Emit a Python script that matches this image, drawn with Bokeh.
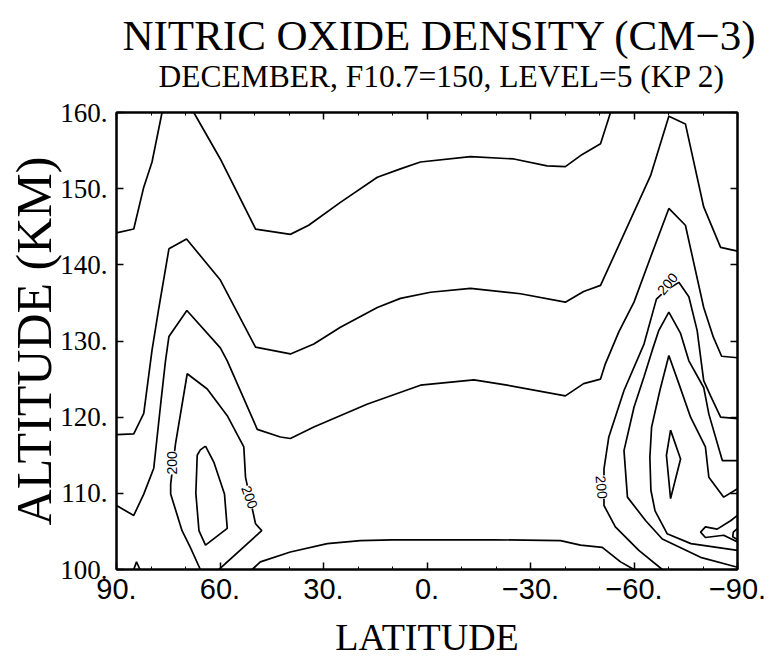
from bokeh.plotting import figure
from bokeh.models import Range1d, FixedTicker, LinearAxis, Label, Title, CustomLabelingPolicy
from bokeh.embed import file_html
from bokeh.resources import INLINE

# ---------------- axis ticks ----------------
lat_major = [90, 60, 30, 0, -30, -60, -90]
lat_minor = [80, 70, 50, 40, 20, 10, -10, -20, -40, -50, -70, -80]
lat_tick_labels = ["90.", "60.", "30.", "0.", "\u221230.", "\u221260.", "\u221290."]
alt_major = [100, 110, 120, 130, 140, 150, 160]
alt_tick_labels = ["100.", "110.", "120.", "130.", "140.", "150.", "160."]

# ---------------- contour lines (latitude, altitude km) ----------------
c1a_lat = [90, 85.0, 82.1, 79.7, 76.8]
c1a_alt = [144.2, 144.7, 150.2, 153.5, 160.0]

c1b_lat = [67.6, 59.9, 49.7, 39.6, 34.3, 25.1, 14.4, 7.7, 1.9, -12.6, -25.2, -34.8, -40.1, -45.0, -50.3, -53.2]
c1b_alt = [160.0, 153.9, 144.7, 144.0, 145.2, 148.2, 151.5, 152.6, 153.5, 154.2, 153.9, 153.0, 152.9, 154.5, 155.9, 160.0]

c2_lat = [90, 85.0, 82.1, 79.7, 77.7, 74.8, 69.7, 59.9, 49.7, 39.6, 32.8, 25.1, 14.4, 7.7, -1.0, -12.6, -27.1,
          -40.1, -45.4, -50.3, -64.8, -70.1, -74.9, -80.2, -85.1, -90]
c2_alt = [117.7, 117.8, 120.5, 128.8, 134.4, 142.1, 143.4, 138.0, 129.2, 128.3, 129.6, 131.8, 134.4, 135.6, 136.4,
          136.9, 136.2, 135.1, 136.5, 137.3, 151.7, 159.5, 158.5, 147.6, 142.3, 141.8]

c3_lat = [90, 85.0, 82.1, 79.2, 77.2, 75.8, 74.8, 69.6, 59.9, 57.9, 49.2, 42.5, 39.6, 32.8, 17.4, 1.9, -13.6,
          -23.2, -40.1, -45.4, -50.3, -51.7, -55.6, -60.0, -64.8, -70.1, -74.9, -80.2, -83.0, -85.4, -90]
c3_alt = [108.4, 107.1, 109.9, 113.3, 121.7, 127.4, 130.6, 134.0, 129.1, 127.4, 118.4, 117.4, 117.2, 118.7, 121.7,
          124.2, 124.9, 124.2, 122.8, 124.4, 125.0, 127.0, 131.2, 135.1, 141.0, 147.4, 145.2, 134.4, 130.5, 128.0, 127.8]

c0_lat = [50.7, 48.3, 39.6, 28.9, 19.3, 10.0, 0.0, -19.3, -38.7, -44.5, -50.8, -56.1, -60.0]
c0_alt = [100.0, 101.0, 102.3, 103.4, 103.8, 103.9, 103.9, 103.9, 103.8, 103.2, 102.9, 101.0, 100.0]

c200w_lat = [65.7, 68.6, 71.0, 74.3, 74.3, 72.9, 69.5, 63.7, 57.9, 53.1, 52.6, 49.7, 47.9, 60.3]
c200w_alt = [100.0, 102.9, 105.1, 109.9, 111.2, 116.5, 125.7, 123.7, 120.2, 116.1, 112.1, 106.0, 105.1, 100.0]

d1_lat = [64.2, 61.8, 58.7, 57.9, 64.2, 66.1, 67.0, 66.6, 65.7, 64.2]
d1_alt = [116.2, 114.1, 109.9, 105.4, 103.2, 105.1, 110.0, 115.0, 115.7, 116.2]

t1_lat = [85.0, 84.2, 83.2]
t1_alt = [100.0, 101.0, 100.0]

c200e_lat = [-68.2, -61.4, -54.6, -51.3, -51.3, -52.7, -57.1, -62.9, -66.5, -69.1, -73.0, -75.9, -78.3, -80.2,
             -82.2, -85.1, -90]
c200e_alt = [100.0, 102.5, 105.6, 108.4, 113.2, 117.4, 123.5, 129.6, 135.5, 136.6, 137.7, 135.8, 131.4, 124.8,
             122.8, 120.0, 119.8]

c5_lat = [-90, -79.3, -68.2, -63.4, -58.1, -57.1, -60.0, -62.9, -65.3, -67.2, -70.1, -73.5, -75.9, -80.2, -81.7,
          -85.6, -90]
c5_alt = [100.3, 101.6, 104.0, 106.4, 109.5, 115.6, 121.3, 125.3, 128.8, 131.4, 133.8, 131.0, 127.4, 123.9, 120.4,
          114.3, 114.3]

c6_lat = [-90, -76.5, -69.6, -66.1, -64.9, -64.6, -65.1, -67.5, -70.1, -73.0, -76.4, -80.7, -81.7, -86.0, -90]
c6_alt = [102.5, 103.4, 104.7, 107.7, 110.4, 114.7, 118.7, 123.5, 128.1, 124.4, 120.0, 116.1, 112.1, 109.5, 110.6]

d2_lat = [-70.6, -73.5, -70.6, -69.4, -70.6]
d2_alt = [118.3, 114.5, 109.3, 115.0, 118.3]

c7_lat = [-90, -88.0, -84.1, -80.7, -79.3, -80.7, -86.0, -90]
c7_alt = [107.1, 106.4, 105.3, 105.6, 104.9, 104.2, 104.5, 103.6]

c8_lat = [-90, -88.8, -88.6, -90]
c8_alt = [105.4, 104.9, 104.3, 103.9]

contour_lats = [c1a_lat, c1b_lat, c2_lat, c3_lat, c0_lat, c200w_lat, d1_lat, t1_lat,
                c200e_lat, c5_lat, c6_lat, d2_lat, c7_lat, c8_lat]
contour_alts = [c1a_alt, c1b_alt, c2_alt, c3_alt, c0_alt, c200w_alt, d1_alt, t1_alt,
                c200e_alt, c5_alt, c6_alt, d2_alt, c7_alt, c8_alt]

# contour value labels
clabel_text = ["200", "200", "200", "200"]
clabel_lat = [73.8, 51.4, -50.6, -69.7]
clabel_alt = [114.0, 109.5, 110.8, 137.5]
clabel_angle = [90, -70, -85, 50]

title_text = "NITRIC OXIDE DENSITY (CM\u22123)"
subtitle_text = "DECEMBER, F10.7=150, LEVEL=5 (KP 2)"

# ---------------- figure ----------------
p = figure(width=771, height=665, x_range=Range1d(90, -90), y_range=Range1d(100, 160),
           output_backend="svg", toolbar_location=None,
           min_border_left=116, min_border_right=34, min_border_top=112, min_border_bottom=96,
           x_axis_label="LATITUDE", y_axis_label="ALTITUDE (KM)")
p.grid.visible = False
p.background_fill_color = "white"
p.border_fill_color = "white"
p.outline_line_color = "black"
p.outline_line_width = 2

xa = p.xaxis[0]
xa.ticker = FixedTicker(ticks=lat_major, minor_ticks=lat_minor)
xa.major_label_overrides = dict(zip(lat_major, lat_tick_labels))
xa.major_label_text_font = "Liberation Sans"
xa.major_label_text_font_size = "29px"
xa.major_label_text_color = "black"
xa.major_label_standoff = 9
xa.axis_label_text_font = "Liberation Serif"
xa.axis_label_text_font_size = "38px"
xa.axis_label_text_font_style = "normal"
xa.axis_label_text_color = "black"
xa.axis_label_standoff = 14

ya = p.yaxis[0]
ya.ticker = FixedTicker(ticks=alt_major)
ya.major_label_overrides = dict(zip(alt_major, alt_tick_labels))
ya.major_label_text_font = "Liberation Serif"
ya.major_label_text_font_size = "27px"
ya.major_label_text_color = "black"
ya.major_label_standoff = 9
ya.axis_label_text_font = "Liberation Serif"
ya.axis_label_text_font_size = "50px"
ya.axis_label_text_font_style = "normal"
ya.axis_label_text_color = "black"
ya.axis_label_standoff = -5

for ax in (xa, ya):
    ax.axis_line_width = 2
    ax.axis_line_color = "black"
    ax.major_tick_in = 7
    ax.major_tick_out = 0
    ax.minor_tick_in = 3
    ax.minor_tick_out = 0
    ax.major_tick_line_width = 1.5
    ax.major_tick_line_color = "black"
    ax.minor_tick_line_color = "black"

no_labels = CustomLabelingPolicy(code="for (const i of indices) { indices.unset(i) } return indices")

top_axis = LinearAxis(ticker=FixedTicker(ticks=lat_major, minor_ticks=lat_minor),
                      major_label_policy=no_labels, major_label_text_font_size="10px",
                      major_label_standoff=0,
                      axis_line_width=2, major_tick_in=7, major_tick_out=0,
                      minor_tick_in=3, minor_tick_out=0, major_tick_line_width=1.5)
p.add_layout(top_axis, "above")
right_axis = LinearAxis(ticker=FixedTicker(ticks=alt_major),
                        major_label_policy=no_labels, major_label_text_font_size="10px",
                        major_label_standoff=0,
                        axis_line_width=2, major_tick_in=7, major_tick_out=0,
                        minor_tick_in=0, minor_tick_out=0, major_tick_line_width=1.5)
p.add_layout(right_axis, "right")

p.add_layout(Title(text=subtitle_text, align="left", offset=42, standoff=15.5,
                   text_font="Liberation Serif", text_font_size="31.5px",
                   text_font_style="normal", text_color="black"), "above")
p.add_layout(Title(text=title_text, align="left", offset=6, standoff=-21,
                   text_font="Liberation Serif", text_font_size="43px",
                   text_font_style="normal", text_color="black"), "above")

p.multi_line(xs=contour_lats, ys=contour_alts, line_color="black", line_width=1.7)

for t, x, y, a in zip(clabel_text, clabel_lat, clabel_alt, clabel_angle):
    p.add_layout(Label(x=x, y=y, text=t, angle=a, angle_units="deg",
                       text_align="center", text_baseline="middle",
                       text_font="Liberation Sans", text_font_size="14px", text_color="black",
                       background_fill_color="white", background_fill_alpha=1.0))

open("out.html", "w").write(file_html(p, INLINE))
